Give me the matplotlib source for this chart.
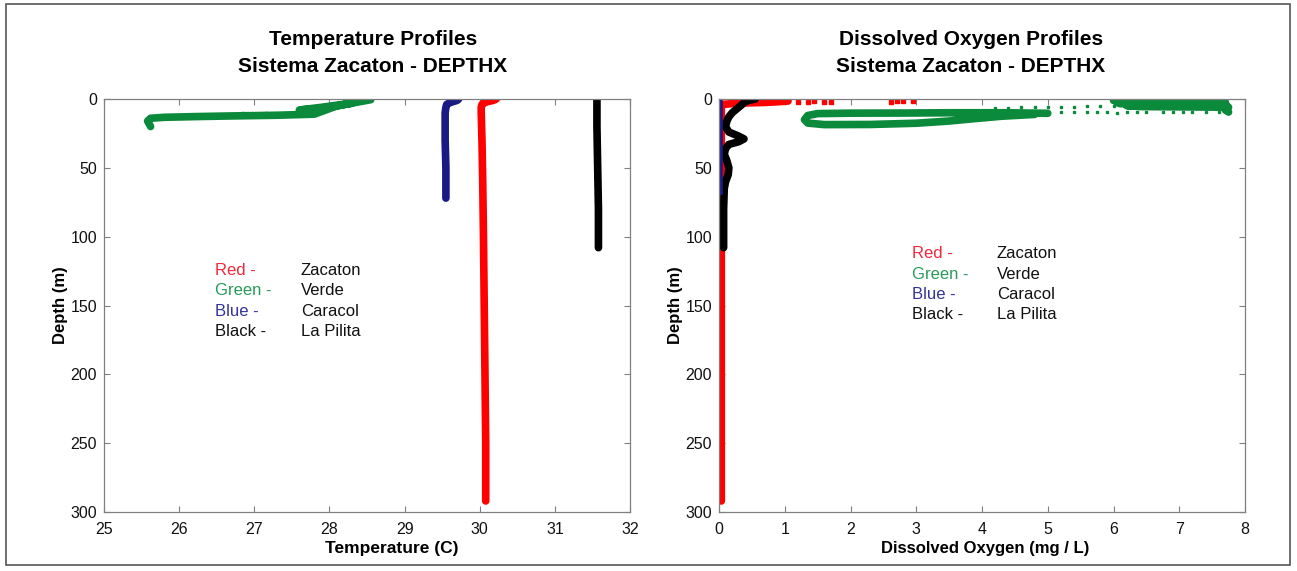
import matplotlib
matplotlib.use("Agg")
import matplotlib.pyplot as plt
from matplotlib.patches import Rectangle

plt.rcParams['font.family'] = ['Liberation Sans', 'DejaVu Sans']

# --- COLOURS ---
RED = '#ff0000'
GREEN = '#0b8a3c'
BLUE = '#1a1a85'
BLACK = '#000000'

# --- TEMPERATURE PROFILES (depth m, temp C) ---
red_t_depth = [0, 1, 2, 3, 4, 6, 10, 30, 60, 100, 150, 200, 250, 292]
red_t = [30.22, 30.18, 30.1, 30.05, 30.03, 30.02, 30.02, 30.03, 30.04, 30.05, 30.06, 30.07, 30.08, 30.08]

green_t_depth = [0.5, 1.5, 3, 5, 7, 8, 6, 3, 5, 8, 11, 11.8, 12.3, 12.8, 13.3, 14, 16, 18, 20]
green_t = [28.55, 28.45, 28.3, 28.1, 27.85, 27.6, 27.9, 28.3, 28.1, 27.95, 27.8, 27.3, 26.7, 26.2, 25.8, 25.62, 25.58, 25.6, 25.62]
green_t_dots_depth = [10.4, 10.8, 10.2, 11.0, 10.6, 10.9, 10.3, 10.7, 10.5]
green_t_dots = [26.85, 27.0, 27.15, 27.25, 27.35, 27.45, 27.55, 27.62, 27.7]

blue_t_depth = [0, 1, 2, 3, 4, 6, 10, 30, 50, 72]
blue_t = [29.72, 29.7, 29.64, 29.59, 29.56, 29.55, 29.54, 29.54, 29.55, 29.55]

black_t_depth = [0, 20, 50, 80, 108]
black_t = [31.56, 31.56, 31.57, 31.58, 31.58]

# --- DISSOLVED OXYGEN PROFILES (depth m, DO mg/L) ---
red_do_depth = [1.5, 2.0, 2.5, 3, 4, 10, 50, 108, 200, 292]
red_do = [1.05, 0.9, 0.7, 0.3, 0.035, 0.035, 0.035, 0.035, 0.035, 0.035]
red_do_dots_depth = [2.0, 2.4, 1.8, 2.3, 2.0, 2.4, 1.8, 1.5, 1.8]
red_do_dots = [1.2, 1.35, 1.45, 1.6, 1.7, 2.62, 2.7, 2.8, 2.95]

# surface readings (upper blob)
green_do_top_depth = [1.0, 1.2, 2.2, 2.4, 3.4, 3.6, 4.6, 4.8, 5.5, 6.0, 8.0, 9.5]
green_do_top = [6.0, 7.6, 7.7, 6.05, 6.1, 7.7, 7.72, 6.2, 6.4, 7.75, 7.7, 7.75]
# loop between 10 and 19 m
green_do_loop_depth = [10.4, 10.0, 10.0, 10.2, 10.3, 10.6, 12, 15, 17.5, 18.6, 18.5, 17.6, 16, 14.2, 12.5, 11.2]
green_do_loop = [5.0, 4.4, 3.5, 2.8, 2.0, 1.5, 1.35, 1.3, 1.35, 1.6, 2.3, 3.0, 3.5, 3.9, 4.3, 4.8]
green_do_dots_depth = [9.5, 9.8, 9.4, 9.7, 9.5, 9.9, 9.6, 9.4, 9.8, 9.5, 9.7, 9.4, 9.6, 9.5, 9.8,
                       6.5, 6.3, 6.1, 6.0, 5.8, 5.6, 5.5, 5.3, 5.2, 5.0]
green_do_dots = [5.2, 5.4, 5.6, 5.75, 5.9, 6.05, 6.2, 6.35, 6.5, 6.75, 6.9, 7.05, 7.2, 7.4, 7.6,
                 4.2, 4.4, 4.6, 4.8, 5.0, 5.2, 5.4, 5.6, 5.8, 6.0]

black_do_depth = [0, 1, 2, 4, 6, 8, 10, 13, 16, 20, 24, 27, 29, 31, 33, 36, 40, 45, 50, 55, 60, 65, 80, 108]
black_do = [0.55, 0.45, 0.4, 0.35, 0.3, 0.25, 0.2, 0.15, 0.12, 0.1, 0.15, 0.3, 0.38, 0.3, 0.15, 0.1, 0.08, 0.12, 0.15, 0.14, 0.1, 0.08, 0.07, 0.07]

blue_do_depth = [0, 70]
blue_do = [0.0, 0.0]

# --- LEGEND TEXT ---
legend_colors = ['Red -', 'Green -', 'Blue -', 'Black -']
legend_sites = ['Zacaton', 'Verde', 'Caracol', 'La Pilita']
legend_rgb = ['#f02a3c', '#2a9a5a', '#33339a', '#111111']

depth_ticks = [0, 50, 100, 150, 200, 250, 300]
temp_ticks = [25, 26, 27, 28, 29, 30, 31, 32]
do_ticks = [0, 1, 2, 3, 4, 5, 6, 7, 8]

LW = 5.5
FS = 11.5


def profile(ax, x, y, color):
    ax.plot(x, y, color=color, linewidth=LW, solid_capstyle='round', solid_joinstyle='round')


def style_axes(ax):
    ax.set_ylim(300, 0)
    ax.set_yticks(depth_ticks)
    for sp in ax.spines.values():
        sp.set_color('#808080')
        sp.set_linewidth(0.9)
    ax.tick_params(direction='in', length=4, width=0.8, color='#808080',
                   top=True, right=True, labelsize=FS, labelcolor='#111111')
    ax.tick_params(axis='y', pad=5)
    ax.tick_params(axis='x', pad=7)
    ax.set_ylabel('Depth (m)', fontsize=12, fontweight='bold', labelpad=2)


fig = plt.figure(figsize=(12.97, 5.71), dpi=100)

# Subplot 1: temperature
ax1 = fig.add_axes([104 / 1297, 59 / 571, 526 / 1297, 413 / 571])
profile(ax1, red_t, red_t_depth, RED)
profile(ax1, green_t, green_t_depth, GREEN)
ax1.plot(green_t_dots, green_t_dots_depth, 's', color=GREEN, markersize=2, linestyle='none')
profile(ax1, blue_t, blue_t_depth, BLUE)
profile(ax1, black_t, black_t_depth, BLACK)
ax1.set_xlim(25, 32)
ax1.set_xticks(temp_ticks)
style_axes(ax1)

# Subplot 2: dissolved oxygen
ax2 = fig.add_axes([719 / 1297, 59 / 571, 526 / 1297, 413 / 571])
profile(ax2, red_do, red_do_depth, RED)
ax2.plot(red_do_dots, red_do_dots_depth, 's', color=RED, markersize=2.5, linestyle='none')
profile(ax2, green_do_top, green_do_top_depth, GREEN)
profile(ax2, green_do_loop, green_do_loop_depth, GREEN)
ax2.plot(green_do_dots, green_do_dots_depth, 's', color=GREEN, markersize=2, linestyle='none')
profile(ax2, black_do, black_do_depth, BLACK)
ax2.plot(blue_do, blue_do_depth, color=BLUE, linewidth=LW, solid_capstyle='butt')
ax2.set_xlim(0, 8)
ax2.set_xticks(do_ticks)
style_axes(ax2)

# legend blocks written as plain text
for ax, x0, x1, y0 in [(ax1, 0.211, 0.3745, 0.584), (ax2, 0.367, 0.5285, 0.6247)]:
    for i in range(4):
        y = y0 - i * 0.0488
        ax.text(x0, y, legend_colors[i], color=legend_rgb[i], fontsize=12,
                transform=ax.transAxes, va='center', ha='left')
        ax.text(x1, y, legend_sites[i], color='#111111', fontsize=12,
                transform=ax.transAxes, va='center', ha='left')

# titles and x labels
fig.text(373 / 1297, 1 - 53 / 571, 'Temperature Profiles\nSistema Zacaton - DEPTHX',
         ha='center', va='center', fontsize=15, fontweight='bold', linespacing=1.55)
fig.text(971 / 1297, 1 - 53 / 571, 'Dissolved Oxygen Profiles\nSistema Zacaton - DEPTHX',
         ha='center', va='center', fontsize=15, fontweight='bold', linespacing=1.55)
fig.text(392 / 1297, 1 - 548 / 571, 'Temperature (C)', ha='center', va='center',
         fontsize=12.5, fontweight='bold')
fig.text(985 / 1297, 1 - 548 / 571, 'Dissolved Oxygen (mg / L)', ha='center', va='center',
         fontsize=12, fontweight='bold')

# outer frame
fig.patches.append(Rectangle((6 / 1297, 6 / 571), 1284 / 1297, 561 / 571, transform=fig.transFigure,
                             fill=False, edgecolor='#555555', linewidth=1.2))

plt.savefig('out.png', dpi=100)
